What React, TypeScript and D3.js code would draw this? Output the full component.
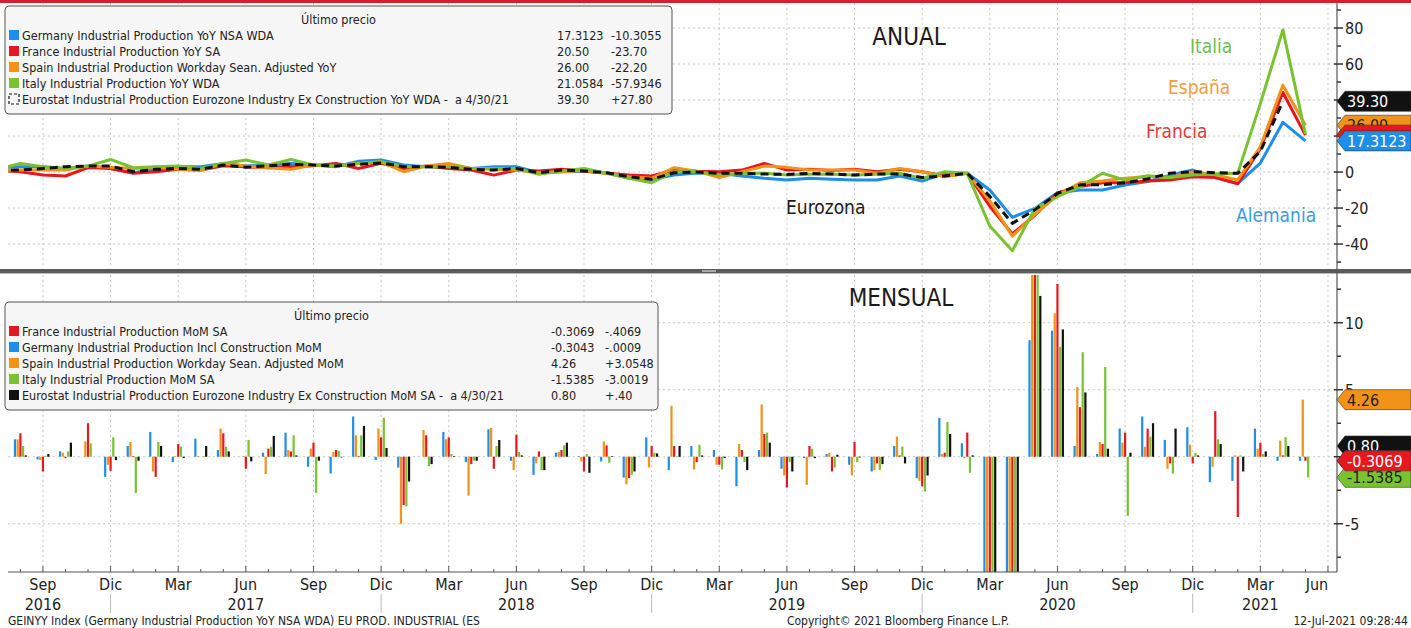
import * as d3 from "d3";
import { useEffect } from "react";

const W = 1411;
const H = 628;
const FONT = "'DejaVu Sans Condensed', 'DejaVu Sans', sans-serif";

// month index: 0 = Sep 2016
const yoyStart = -2; // Jul 2016
const momStart = -1; // Aug 2016

// YoY (%)  Jul 2016 .. May 2021
const yoyGermany = [2.5, 3.0, 3.0, 2.0, 3.3, 2.0, -0.4, 1.5, 3.0, 3.0, 4.8, 3.3, 3.9, 4.8, 3.9, 3.0, 6.0, 6.7, 3.9, 3.0, 3.0, 2.0, 3.0, 3.0, -0.4, 0.2, 0.5, -0.4, -3.5, -4.0, -1.7, -0.5, -0.7, -2.2, -3.5, -4.4, -3.5, -4.0, -4.4, -4.4, -2.2, -5.0, -0.7, -0.7, -10, -25.2, -20.2, -11.5, -10, -10, -7.2, -5.3, -1.7, 1.1, -3, -6.3, 5.0, 27.62, 17.3123];
const yoyFrance = [1.0, 0.2, -1.7, -2.2, 2.5, 2.0, -0.7, 0.2, 1.5, 1.1, 3.5, 3.0, 2.4, 3.0, 3.5, 4.8, 2.0, 4.8, 2.0, 3.3, 2.0, 1.1, -1.7, 1.1, 0.6, 1.5, 0.6, -0.7, -1.7, -2.2, 1.1, 0.5, 0.2, 1.1, 4.8, 1.1, 1.5, 0.8, 1.5, 0.2, 1.5, 0.2, -2.2, -0.7, -19, -34.4, -24, -11.6, -8, -6, -6, -5, -4.4, -2.6, -3, -6.5, 13, 44.2, 20.5];
const yoySpain = [1.0, 1.1, 1.1, 1.1, 3.3, 2.6, 2.0, 2.6, 1.5, 0.8, 4.8, 3.3, 2.4, 1.5, 3.9, 3.3, 4.8, 5.7, 0.2, 3.3, 4.8, 2.0, 1.5, 1.1, -0.4, 0.2, 0.8, -0.7, -2.6, -3.5, 2.4, 0.5, -3.0, 0.2, 3.3, 2.6, 1.1, 1.1, 1.1, -0.7, 2.0, 0.2, -2.6, -0.7, -16, -35.6, -23.5, -13, -6, -5, -3.5, -2.5, -3, 0, -1.5, -4.4, 14, 48.2, 26.0];
const yoyItaly = [1.5, 4.8, 3.0, 2.0, 3.3, 7.0, 2.4, 3.0, 3.3, 2.0, 4.8, 6.7, 3.9, 7.0, 3.9, 3.3, 4.8, 5.7, 3.0, 3.0, 3.0, 2.0, 2.0, 2.0, -1.2, 0.6, 2.0, -0.7, -3.5, -5.9, 0.2, 0.2, -1.7, -0.7, -0.7, -1.7, -1.2, -1.2, -1.7, -1.2, -0.7, -3.5, 0.2, -0.7, -30, -43.7, -20.3, -13.7, -8.1, -0.7, -4.5, -2.1, -3, -1.7, -1, -0.6, 38, 78.99, 21.0584];
const yoyEurozone = [1.0, 1.1, 2.0, 3.0, 3.3, 3.3, 0.2, 1.5, 2.0, 1.5, 3.9, 2.6, 3.5, 4.3, 3.9, 3.3, 4.3, 5.0, 3.0, 3.0, 2.6, 1.5, 1.1, 2.0, -0.4, 1.1, 0.6, -0.4, -2.6, -4.0, -0.4, 0.0, -0.7, -0.7, -1.1, -1.3, -0.7, -1.1, -1.7, -1.1, -1.1, -3.0, -2.2, -0.7, -13.5, -28.5, -21, -11.9, -7.1, -7, -6, -3.8, -0.6, 0.2, -0.4, -0.7, 11.5, 39.3];

// MoM (%)  Aug 2016 .. May 2021
const momGermany = [1.3, -0.2, 0.4, 0.0, -1.5, 0.8, 1.85, -0.4, 1.35, 0.5, 0.0, 0.3, 1.8, -0.75, -1.25, 3.0, -0.25, -0.8, 0.0, 1.85, -0.4, 2.05, -0.3, -1.35, 0.3, 0.05, -0.35, -1.55, 1.45, -1.0, 0.8, 0.5, -2.2, 0.5, -0.9, -0.1, 0.2, -0.6, -1.1, 0.8, -1.6, 2.9, 1.0, -11, -17.9, 8.7, 9.4, 0.8, 0.2, 2.1, 3.0, 1.25, 2.2, -1.9, -1.8, 2.1, -0.3034, -0.3043];
const momSpain = [1.3, -0.25, 0.3, 1.15, -0.6, 1.1, -1.1, 0.05, 0.05, 2.1, 0.05, -1.3, 0.5, 0.6, 0.35, 1.6, 2.1, -5.0, 2.0, 1.3, -2.9, 2.15, -1.0, -0.5, 0.35, -0.35, 1.15, -2.05, -0.8, 3.8, -0.95, -0.6, 0.95, 3.9, -1.4, -2.1, 0.3, -1.4, -1.0, 1.5, -1.8, 0.2, -0.1, -11.9, -21.8, 14, 10.7, 5.2, 1.1, 1.05, 0.75, -0.9, 0.9, -0.75, 0.1, 0.6, 1.2052, 4.26];
const momFrance = [1.75, -1.1, -0.1, 2.5, -1.05, 0.05, -1.5, 0.95, 0.0, 1.75, -0.9, 0.6, 0.4, 1.05, 0.5, 0.05, 1.45, -3.6, 1.6, 1.45, -0.55, -0.9, 1.65, 0.4, 0.5, -1.1, 0.85, -1.6, 0.8, 0.8, -0.4, -0.6, 0.5, 1.7, -2.3, 0.8, -1.1, 1.1, -0.5, 0.1, -2.2, 0.3, 1.8, -16.2, -20.4, 19.6, 12.9, 3.7, 0.95, 1.8, 2.1, -0.5, -0.5, 3.4, -4.5, 1.05, 0.1, -0.3069];
const momItaly = [0.8, 0.05, 0.4, 1.0, 1.45, -2.7, 1.1, 0.75, 0.05, 0.75, 1.25, 0.75, 1.6, -2.7, 0.45, 1.6, 2.9, -3.7, -0.7, 0.2, -0.3, 0.8, 0.35, -1.0, 0.85, 0.2, -0.45, -1.35, 0.3, 0.05, 0.9, -0.95, -0.4, 1.8, -0.4, 0.6, -0.8, -0.4, -1.0, 0.75, -2.6, 2.6, -1.2, -28, -19.6, 42, 8.2, 7.8, 6.7, -4.4, 1.5, -1.25, 0.3, 1.3, 0.1, 0.2, 1.4634, -1.5385];
const momEurozone = [0.1, 0.2, 1.05, 0.0, -0.25, -0.3, 0.8, -0.1, 0.8, 0.4, -0.35, 1.55, 0.1, -0.3, -0.05, 2.3, 0.65, -1.85, -0.55, 0.05, -0.3, 1.25, 0.1, -1.0, 1.05, -1.2, 0.05, -1.1, 0.25, 0.8, 0.1, -0.1, -1.0, 1.05, -1.1, -0.1, 0.15, -0.05, -0.55, -0.5, -1.4, 1.7, 0.1, -11.3, -17, 12, 9.5, 4.8, 0.6, 0.3, 2.5, 2.1, 0.1, 0.95, -1.1, 0.4, 0.8];

const quarterLabels = ["Sep", "Dic", "Mar", "Jun", "Sep", "Dic", "Mar", "Jun", "Sep", "Dic", "Mar", "Jun", "Sep", "Dic", "Mar", "Jun", "Sep", "Dic", "Mar", "Jun"];
const yearLabels = ["2016", "2017", "2018", "2019", "2020", "2021"];
const yearAt = [0, 9, 21, 33, 45, 54];
const yearBreaks = [3, 15, 27, 39, 51];

const topTicks = [80, 60, 40, 20, 0, -20, -40];
const botTicks = [10, 5, 0, -5];
// labels that the value tags hide in the original
const topTickLabels = [80, 60, 0, -20, -40];
const botTickLabels = [10, 5, -5];

const legendTop = {
  names: [
    "Germany Industrial Production YoY NSA WDA",
    "France Industrial Production YoY SA",
    "Spain Industrial Production Workday Sean. Adjusted YoY",
    "Italy Industrial Production YoY WDA",
    "Eurostat Industrial Production Eurozone Industry Ex Construction YoY WDA -  a 4/30/21",
  ],
  last: ["17.3123", "20.50", "26.00", "21.0584", "39.30"],
  chg: ["-10.3055", "-23.70", "-22.20", "-57.9346", "+27.80"],
};
const legendBot = {
  names: [
    "France Industrial Production MoM SA",
    "Germany Industrial Production Incl Construction MoM",
    "Spain Industrial Production Workday Sean. Adjusted MoM",
    "Italy Industrial Production MoM SA",
    "Eurostat Industrial Production Eurozone Industry Ex Construction MoM SA -  a 4/30/21",
  ],
  last: ["-0.3069", "-0.3043", "4.26", "-1.5385", "0.80"],
  chg: ["-.4069", "-.0009", "+3.0548", "-3.0019", "+.40"],
};

const C = {
  blue: "#1f8ee8",
  red: "#e8161e",
  orange: "#f29217",
  green: "#7ac231",
  black: "#111111",
};

const x = d3.scaleLinear().domain([-1.55, 57.4]).range([8, 1337]);
const yTop = d3.scaleLinear().domain([-53.3, 93.9]).range([268, 3]);
const yBot = d3.scaleLinear().domain([-8.6, 13.56]).range([572, 275]);
const AX = 1337;

function linePath(vals: number[]) {
  return (
    d3
      .line<number>()
      .x((_, i) => x(yoyStart + i))
      .y((d) => yTop(d))(vals) || ""
  );
}

function Tag({ v, y, fill, color }: { v?: string; y: number; fill: string; color?: string }) {
  const h = 10;
  return (
    <g>
      <path d={`M${AX},${y} L${AX + 8},${y - h} L${W},${y - h} L${W},${y + h} L${AX + 8},${y + h} Z`} fill={fill} stroke="#333" strokeWidth={0.6} />
      {v && (
        <text x={AX + 10} y={y + 6} fontSize={16} fill={color} fontFamily={FONT}>
          {v}
        </text>
      )}
    </g>
  );
}

function Legend({ x0, y0, w, vx1, vx2, leg, colors, dashedLast }: any) {
  return (
    <g fontFamily={FONT} fontSize={12.5} fill="#222">
      <rect x={x0} y={y0} width={w} height={108} rx={4} fill="#f6f6f6" stroke="#555" strokeWidth={1} />
      <text x={x0 + w / 2} y={y0 + 18} textAnchor="middle">Último precio</text>
      {leg.names.map((n: string, i: number) => {
        const cy = y0 + 29 + i * 16;
        return (
          <g key={i}>
            {dashedLast && i === 4 ? (
              <rect x={x0 + 4} y={cy - 5} width={10} height={10} fill="none" stroke="#111" strokeWidth={1.2} strokeDasharray="3,2" />
            ) : (
              <rect x={x0 + 4} y={cy - 5} width={10} height={10} fill={colors[i]} />
            )}
            <text x={x0 + 17} y={cy + 4.5} style={{ whiteSpace: "pre" }}>{n}</text>
            <text x={vx1} y={cy + 4.5}>{leg.last[i]}</text>
            <text x={vx2} y={cy + 4.5}>{leg.chg[i]}</text>
          </g>
        );
      })}
    </g>
  );
}

export default function App() {
  useEffect(() => {
    document.body.style.margin = "0";
  }, []);

  const quarterIdx = quarterLabels.map((_, k) => k * 3);
  const barSeries = [
    { vals: momGermany, c: C.blue },
    { vals: momSpain, c: C.orange },
    { vals: momFrance, c: C.red },
    { vals: momItaly, c: C.green },
    { vals: momEurozone, c: C.black },
  ];
  const step = 2.7;
  const bw = 2.2;

  return (
    <svg width={W} height={H} style={{ display: "block", background: "#fff" }}>
      <defs>
        <clipPath id="clipTop">
          <rect x={8} y={3} width={AX - 8} height={265} />
        </clipPath>
        <clipPath id="clipBot">
          <rect x={8} y={275} width={AX - 8} height={297} />
        </clipPath>
      </defs>
      <rect x={0} y={0} width={W} height={3} fill="#d6202a" />

      {/* grid */}
      <g stroke="#c8c8c8" strokeWidth={1} strokeDasharray="2,3">
        {quarterIdx.map((i) => (
          <g key={i}>
            <line x1={x(i)} x2={x(i)} y1={3} y2={268} />
            <line x1={x(i)} x2={x(i)} y1={275} y2={572} />
          </g>
        ))}
        {topTicks.map((t) => (
          <line key={t} x1={8} x2={AX} y1={yTop(t)} y2={yTop(t)} />
        ))}
        {botTicks.map((t) => (
          <line key={t} x1={8} x2={AX} y1={yBot(t)} y2={yBot(t)} />
        ))}
      </g>

      {/* top lines */}
      <g clipPath="url(#clipTop)" fill="none" strokeWidth={3} strokeLinejoin="round">
        <path d={linePath(yoyGermany)} stroke={C.blue} />
        <path d={linePath(yoyFrance)} stroke={C.red} />
        <path d={linePath(yoySpain)} stroke={C.orange} />
        <path d={linePath(yoyItaly)} stroke={C.green} />
        <path d={linePath(yoyEurozone)} stroke={C.black} strokeDasharray="8,5" />
      </g>

      {/* bottom bars */}
      <g clipPath="url(#clipBot)">
        {barSeries.map((s, j) =>
          s.vals.map((v, k) => {
            const m = momStart + k;
            const cx = x(m) + (j - 2) * step;
            const y0 = yBot(0);
            const y1 = yBot(v);
            return <rect key={`${j}-${k}`} x={cx - bw / 2} y={Math.min(y0, y1)} width={bw} height={Math.abs(y1 - y0)} fill={s.c} />;
          })
        )}
      </g>

      {/* separator */}
      <rect x={0} y={269} width={W} height={4} fill="#5a5a5a" />
      <rect x={0} y={273} width={W} height={1} fill="#bbb" />
      <rect x={702} y={270} width={14} height={2} fill="#aaa" />

      {/* right axis */}
      <line x1={AX} x2={AX} y1={3} y2={572} stroke="#555" strokeWidth={1.2} />
      <g stroke="#333" strokeWidth={1.5}>
        {d3.range(-50, 91, 10).map((t) => {
          const major = t % 20 === 0;
          return <line key={t} x1={major ? AX - 3 : AX} x2={AX + (major ? 6 : 4)} y1={yTop(t)} y2={yTop(t)} />;
        })}
        {d3.range(-7.5, 13, 2.5).map((t) => {
          const major = t % 5 === 0;
          return <line key={t} x1={major ? AX - 3 : AX} x2={AX + (major ? 6 : 4)} y1={yBot(t)} y2={yBot(t)} />;
        })}
      </g>
      <g fontFamily={FONT} fontSize={16} fill="#222">
        {topTickLabels.map((t) => (
          <text key={t} x={AX + 8} y={yTop(t) + 6}>{t}</text>
        ))}
        {botTickLabels.map((t) => (
          <text key={t} x={AX + 8} y={yBot(t) + 6}>{t}</text>
        ))}
      </g>

      {/* last value tags (hidden ones keep only their shape) */}
      <Tag y={yTop(21.0584)} fill={C.green} />
      <Tag v="39.30" y={yTop(39.3)} fill={C.black} color="#fff" />
      <Tag v="26.00" y={yTop(26)} fill={C.orange} color="#222" />
      <Tag y={yTop(20.5)} fill={C.red} />
      <Tag v="17.3123" y={yTop(17.3123)} fill={C.blue} color="#fff" />

      <Tag v="4.26" y={yBot(4.26)} fill={C.orange} color="#222" />
      <Tag v="0.80" y={yBot(0.8)} fill={C.black} color="#fff" />
      <Tag y={yBot(-0.3043)} fill={C.blue} />
      <Tag v="-1.5385" y={yBot(-1.5385)} fill={C.green} color="#222" />
      <Tag v="-0.3069" y={yBot(-0.3069)} fill={C.red} color="#fff" />

      {/* x axis */}
      <line x1={8} x2={AX} y1={572} y2={572} stroke="#555" strokeWidth={1.2} />
      <g stroke="#555" strokeWidth={1}>
        {d3.range(-1, 58).map((m) => (
          <line key={m} x1={x(m)} x2={x(m)} y1={572} y2={m % 3 === 0 ? 566 : 569} />
        ))}
      </g>
      <g fontFamily={FONT} fontSize={16} fill="#222" textAnchor="middle">
        {quarterLabels.map((l, k) => (
          <text key={k} x={Math.min(x(k * 3), AX - 20)} y={590}>{l}</text>
        ))}
        {yearLabels.map((l, k) => (
          <text key={l} x={x(yearAt[k])} y={610}>{l}</text>
        ))}
      </g>
      <g stroke="#bbb" strokeWidth={1}>
        {yearBreaks.map((m) => (
          <line key={m} x1={x(m)} x2={x(m)} y1={594} y2={613} />
        ))}
      </g>

      {/* titles and series labels */}
      <g fontFamily={FONT} fill="#1a1a1a" fontSize={24} textAnchor="middle">
        <text x={909} y={45}>ANUAL</text>
        <text x={901} y={306}>MENSUAL</text>
      </g>
      <g fontFamily={FONT} fontSize={19}>
        <text x={1190} y={53} fill="#6abf4b">Italia</text>
        <text x={1168} y={94} fill="#f0a040">España</text>
        <text x={1146} y={138} fill="#e33b3b">Francia</text>
        <text x={1236} y={222} fill="#3d9be0">Alemania</text>
        <text x={786} y={214} fill="#1a1a1a">Eurozona</text>
      </g>

      <Legend x0={5} y0={6} w={667} vx1={557} vx2={611} leg={legendTop} colors={[C.blue, C.red, C.orange, C.green]} dashedLast />
      <Legend x0={5} y0={302} w={653} vx1={551} vx2={605} leg={legendBot} colors={[C.red, C.blue, C.orange, C.green, C.black]} />

      {/* footer */}
      <g fontFamily={FONT} fontSize={12} fill="#222">
        <text x={8} y={625}>GEINYY Index (Germany Industrial Production YoY NSA WDA) EU PROD. INDUSTRIAL (ES</text>
        <text x={898} y={625} textAnchor="middle">Copyright© 2021 Bloomberg Finance L.P.</text>
        <text x={1408} y={625} textAnchor="end">12-Jul-2021 09:28:44</text>
      </g>
    </svg>
  );
}
